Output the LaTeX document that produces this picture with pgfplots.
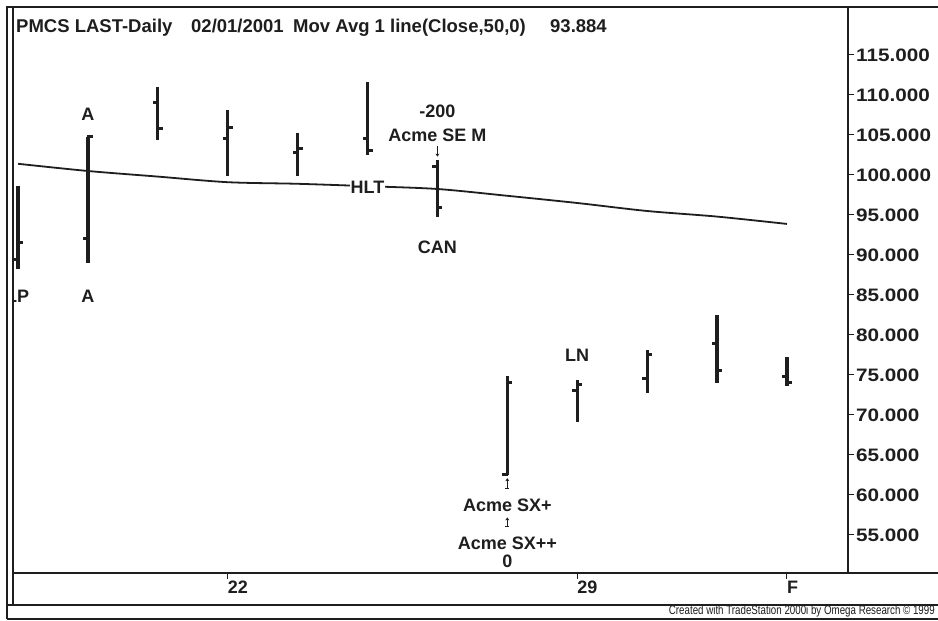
\documentclass[border=0pt]{standalone}
\usepackage{fontspec}
\setmainfont{Liberation Sans}
\newfontfamily\widefont{Liberation Sans}[FakeStretch=1.15]
\usepackage{graphicx}
\usepackage{pgfplots}
\usepackage{pgfplotstable}
\pgfplotsset{compat=1.18}
\usetikzlibrary{arrows.meta}
\definecolor{ink}{HTML}{1E1E1E}

\pgfdeclareplotmark{otick}{\pgfpathmoveto{\pgfpoint{1pt}{0pt}}\pgfpathlineto{\pgfpoint{-5pt}{0pt}}\pgfusepathqstroke}
\pgfdeclareplotmark{ctick}{\pgfpathmoveto{\pgfpoint{-1pt}{0pt}}\pgfpathlineto{\pgfpoint{5pt}{0pt}}\pgfusepathqstroke}

\pgfplotstableread{
i  open   high   low    close  ma
0  89.4   98.6   88.3   91.5   101.4
1  92.1   104.8  89.0   104.8  100.5
2  109.0  111.0  104.4  105.75 99.8
3  104.6  108.1  99.9   105.9  99.1
4  102.75 105.25 99.9   103.25 98.9
5  104.6  111.6  102.5  103.0  98.6
6  101.1  101.9  94.75  95.9   98.25
7  62.5   74.9   62.5   74.0   97.4
8  73.0   74.4   69.1   73.75  96.5
9  74.5   78.1   72.75  77.5   95.5
10 78.9   82.5   74.0   75.5   94.8
11 74.75  77.25  73.6   74.1   93.884
}\bars

\newcommand{\lab}{\fontsize{18}{19}\selectfont\bfseries}

\begin{document}
\begin{tikzpicture}[x=1pt,y=1pt]
\useasboundingbox (0,0) rectangle (938,621);
\fill[white] (0,0) rectangle (938,621);
\begin{axis}[
  at={(13pt,48pt)}, anchor=south west, scale only axis,
  width=835pt, height=566pt,
  xmin=-0.072, xmax=11.874, ymin=50.25, ymax=121.0,
  axis x line*=bottom, axis y line*=right,
  axis line style={ink, line width=1.3pt},
  clip=false,
  xtick={3,8,11}, xticklabels={22,29,F},
  ytick={55,60,...,115},
  tick align=outside, major tick length=6pt,
  tick style={ink, line width=1pt},
  /pgf/number format/assume math mode=true,
  yticklabel style={font=\widefont\fontsize{18}{19}\selectfont\bfseries, text=ink, anchor=west, inner sep=0pt, xshift=2pt,
    /pgf/number format/fixed, /pgf/number format/fixed zerofill, /pgf/number format/precision=3},
  xticklabel style={font=\lab, text=ink, anchor=north west, inner sep=0pt, xshift=0pt, yshift=-2pt},
]
% high-low ranges
\addplot[draw=none, mark=none, forget plot,
  error bars/.cd, y dir=plus, y explicit, error mark=none,
  error bar style={draw=ink, line width=3.2pt}]
  table[x=i, y=low, y error expr=\thisrow{high}-\thisrow{low}] {\bars};
% open ticks
\addplot[only marks, mark=otick, mark options={draw=ink, line width=3pt}] table[x=i, y=open] {\bars};
% close ticks
\addplot[only marks, mark=ctick, mark options={draw=ink, line width=3pt}] table[x=i, y=close] {\bars};
% moving average
\addplot[ink, line width=1.8pt, smooth, mark=none] table[x=i, y=ma] {\bars};

% annotations
\node[font=\lab, text=ink] at (axis cs:1,107.6) {A};
\node[font=\lab, text=ink] at (axis cs:1,84.8) {A};
\node[font=\lab, text=ink, anchor=east, inner sep=0pt] at (axis cs:0.16,84.8) {LP};
\node[font=\lab, text=ink, fill=white, inner sep=1pt] at (axis cs:5,98.5) {HLT};
\node[font=\lab, text=ink] at (axis cs:6,108.0) {-200};
\node[font=\lab, text=ink] at (axis cs:6,105.0) {Acme SE M};
\draw[ink, line width=1pt, -{Stealth[length=3pt,width=4pt]}] (axis cs:6,103.6) -- (axis cs:6,102.3);
\node[font=\lab, text=ink] at (axis cs:6,91.0) {CAN};
\node[font=\lab, text=ink] at (axis cs:8,77.4) {LN};
\draw[ink, line width=1pt, -{Stealth[length=3pt,width=4pt]}] (axis cs:7,60.8) -- (axis cs:7,62.1);
\draw[ink, line width=1pt] (axis cs:6.97,60.8) -- (axis cs:7.03,60.8);
\node[font=\lab, text=ink] at (axis cs:7,58.75) {Acme SX+};
\draw[ink, line width=1pt, -{Stealth[length=3pt,width=4pt]}] (axis cs:7,56.1) -- (axis cs:7,57.2);
\draw[ink, line width=1pt] (axis cs:6.97,56.1) -- (axis cs:7.03,56.1);
\node[font=\lab, text=ink] at (axis cs:7,54.0) {Acme SX++};
\node[font=\lab, text=ink] at (axis cs:7,51.75) {0};
\end{axis}

% hide the clipped part of "LP" between the double border lines
\fill[white] (7.8,312) rectangle (12.3,338);

% frame
\draw[ink, line width=1.6pt] (7,2) -- (7,614) -- (945,614);
\draw[ink, line width=1.6pt] (7,2) -- (945,2);
\draw[ink, line width=1.3pt] (13,16) -- (13,614);
\draw[ink, line width=1.6pt] (7,16) -- (945,16);
\draw[ink, line width=1.3pt] (13,48) -- (945,48);
\draw[ink, line width=1.3pt] (848,48) -- (848,614);

% title
\begin{scope}[every node/.style={font=\fontsize{18.5}{20}\selectfont\bfseries, text=ink, anchor=base west, inner sep=0pt}]
\node at (16,588) {PMCS LAST-Daily};
\node at (191,588) {02/01/2001};
\node at (293,588) {Mov Avg 1 line(Close,50,0)};
\node at (550,588) {93.884};
\end{scope}

% credit
\node[anchor=base east, inner sep=0pt, text=ink] at (935,6) {\scalebox{0.78}[1]{\fontsize{12.5}{13}\selectfont Created with TradeStation 2000i by Omega Research \textcopyright{} 1999}};
\end{tikzpicture}
\end{document}
